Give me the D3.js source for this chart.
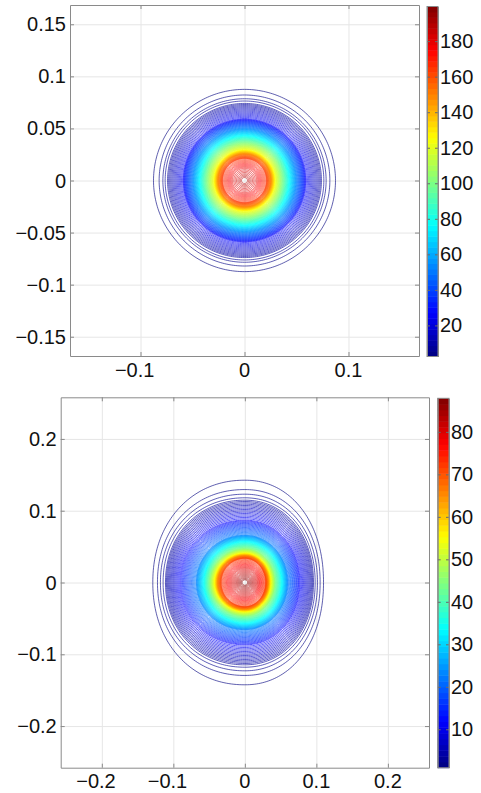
<!DOCTYPE html>
<html><head><meta charset="utf-8">
<script src="https://cdn.jsdelivr.net/npm/d3@7"></script>
<style>
body{margin:0;background:#fff}
svg{display:block}
text{font-family:"Liberation Sans",Arial,Helvetica,sans-serif;font-size:20px;fill:#111}
</style>
</head><body>
<svg id="chart" width="481" height="793"></svg>
<script>
// ================= DATA =================
// --- Top panel ---
const topXTicks = [-0.1, 0, 0.1];
const topXTickLabels = ["−0.1", "0", "0.1"];
const topYTicks = [0.15, 0.1, 0.05, 0, -0.05, -0.1, -0.15];
const topYTickLabels = ["0.15", "0.1", "0.05", "0", "−0.05", "−0.1", "−0.15"];
const topXDomain = [-0.1678, 0.1678];
const topYDomain = [-0.1685, 0.1685];
const topCbTicks = [20, 40, 60, 80, 100, 120, 140, 160, 180];
const topCbDomain = [2.5, 199.5];
const topLevelCount = 150;
// radial profile: contour value -> radius (circular)
const topProfileValues = [2.5, 3.82, 5.14, 6.47, 7.79, 27, 52, 76, 101, 125, 150, 165, 178, 184, 188];
const topProfileRadius = [0.0875, 0.0821, 0.0785, 0.0763, 0.074, 0.059, 0.050, 0.043, 0.036, 0.029, 0.025, 0.021, 0.012, 0.006, 0.0025];
const topShapeExp      = [2, 2, 2, 2, 2, 2, 2, 2, 2, 2, 2, 2, 2, 2, 2];

// --- Bottom panel ---
const botXTicks = [-0.2, -0.1, 0, 0.1, 0.2];
const botXTickLabels = ["−0.2", "−0.1", "0", "0.1", "0.2"];
const botYTicks = [0.2, 0.1, 0, -0.1, -0.2];
const botYTickLabels = ["0.2", "0.1", "0", "−0.1", "−0.2"];
const botXDomain = [-0.2575, 0.2575];
const botYDomain = [-0.258, 0.258];
const botCbTicks = [10, 20, 30, 40, 50, 60, 70, 80];
const botCbDomain = [0.96, 87.9];
const botLevelCount = 150;
// profile: contour value -> radius up/down, to the left, to the right
const botProfileValues = [0.96, 1.54, 2.13, 2.71, 3.29, 12, 22.7, 33.6, 44.5, 55, 66, 72, 79, 82, 85, 86.5];
const botRadiusVert  = [0.1425, 0.1295, 0.123, 0.118, 0.1147, 0.087, 0.066, 0.0567, 0.047, 0.0404, 0.0367, 0.0334, 0.020, 0.013, 0.006, 0.003];
const botRadiusLeft  = [0.1287, 0.1222, 0.118, 0.1143, 0.111, 0.091, 0.068, 0.0574, 0.049, 0.042, 0.0373, 0.0330, 0.019, 0.012, 0.006, 0.003];
const botRadiusRight = [0.1100, 0.1053, 0.1015, 0.0983, 0.096, 0.077, 0.060, 0.0515, 0.0420, 0.0360, 0.0320, 0.0290, 0.018, 0.012, 0.006, 0.003];
const botShapeExp    = [2.12, 2.12, 2.1, 2.1, 2.1, 2.06, 2.03, 2.0, 2.0, 2.0, 2.0, 2.0, 2.0, 2.0, 2.0, 2.0];

// ================= DRAWING =================
const svg = d3.select("#chart");
const defs = svg.append("defs");
defs.append("filter").attr("id", "soft").attr("x", "-10%").attr("y", "-10%").attr("width", "120%").attr("height", "120%")
  .append("feGaussianBlur").attr("stdDeviation", 0.3);

function jet(t) {
  const c = v => Math.max(0, Math.min(1, v));
  const r = c(1.5 - Math.abs(4 * t - 3));
  const g = c(1.5 - Math.abs(4 * t - 2));
  const b = c(1.5 - Math.abs(4 * t - 1));
  return d3.rgb(r * 255, g * 255, b * 255).toString();
}

let clipId = 0;
function panel(cfg) {
  const x = d3.scaleLinear().domain(cfg.xDomain).range([cfg.left, cfg.right]);
  const y = d3.scaleLinear().domain(cfg.yDomain).range([cfg.bottom, cfg.top]);
  const W = cfg.right - cfg.left, H = cfg.bottom - cfg.top;
  const g = svg.append("g");

  // grid
  const gridStyle = s => { s.select(".domain").remove(); s.selectAll("line").attr("stroke", "#e6e6e6").attr("stroke-width", 1); };
  g.append("g").attr("transform", `translate(0,${cfg.bottom})`)
    .call(d3.axisBottom(x).tickValues(cfg.xTicks).tickSize(-H).tickFormat("")).call(gridStyle);
  g.append("g").attr("transform", `translate(${cfg.left},0)`)
    .call(d3.axisLeft(y).tickValues(cfg.yTicks).tickSize(-W).tickFormat("")).call(gridStyle);

  // contours
  const id = "clip" + (clipId++);
  defs.append("clipPath").attr("id", id).append("rect")
    .attr("x", cfg.left).attr("y", cfg.top).attr("width", W).attr("height", H);
  const lo = cfg.cbDomain[0], hi = cfg.cbDomain[1];
  const peak = d3.max(cfg.profileValues);
  const levels = d3.range(cfg.levelCount)
    .map(i => lo + i * (hi - lo) / (cfg.levelCount - 1))
    .filter(v => v <= peak);
  const rV = d3.scaleLinear().domain(cfg.profileValues).range(cfg.radiusVert).clamp(true);
  const rL = d3.scaleLinear().domain(cfg.profileValues).range(cfg.radiusLeft).clamp(true);
  const rR = d3.scaleLinear().domain(cfg.profileValues).range(cfg.radiusRight).clamp(true);
  const ex = d3.scaleLinear().domain(cfg.profileValues).range(cfg.shapeExp).clamp(true);
  const color = v => jet((v - lo) / (hi - lo));
  const angles = d3.range(0, 2 * Math.PI, Math.PI / 120);
  const cg = g.append("g").attr("clip-path", `url(#${id})`).append("g").attr("filter", "url(#soft)");
  levels.forEach(v => {
    const a = rL(v), b = rR(v), c = rV(v), p = 2 / ex(v);
    const sp = u => Math.sign(u) * Math.pow(Math.abs(u), p);
    const line = d3.line()
      .x(t => { const cu = sp(Math.cos(t)); return x(cu >= 0 ? b * cu : a * cu); })
      .y(t => y(c * sp(Math.sin(t))))
      .curve(d3.curveCardinalClosed);
    cg.append("path").attr("d", line(angles))
      .attr("fill", "none").attr("stroke", color(v))
      .attr("stroke-width", 0.9).attr("stroke-opacity", 0.7);
  });

  // box + inward ticks on all sides
  const tickStyle = s => { s.select(".domain").attr("stroke", "#8a8a8a"); s.selectAll(".tick line").attr("stroke", "#8a8a8a"); s.selectAll("text").remove(); };
  g.append("g").attr("transform", `translate(0,${cfg.bottom})`).call(d3.axisBottom(x).tickValues(cfg.xTicks).tickSize(-4).tickSizeOuter(0)).call(tickStyle);
  g.append("g").attr("transform", `translate(0,${cfg.top})`).call(d3.axisTop(x).tickValues(cfg.xTicks).tickSize(-4).tickSizeOuter(0)).call(tickStyle);
  g.append("g").attr("transform", `translate(${cfg.left},0)`).call(d3.axisLeft(y).tickValues(cfg.yTicks).tickSize(-4).tickSizeOuter(0)).call(tickStyle);
  g.append("g").attr("transform", `translate(${cfg.right},0)`).call(d3.axisRight(y).tickValues(cfg.yTicks).tickSize(-4).tickSizeOuter(0)).call(tickStyle);

  // y labels
  cfg.yTicks.forEach((t, i) => {
    g.append("text").attr("x", cfg.left - 4).attr("y", y(t) + 7)
      .attr("text-anchor", "end").text(cfg.yTickLabels[i]);
  });
  // x labels: digits centred on tick, minus sign hanging to the left
  cfg.xTicks.forEach((t, i) => {
    const lab = cfg.xTickLabels[i];
    const neg = lab.startsWith("−");
    const digits = neg ? lab.slice(1) : lab;
    const txt = g.append("text").attr("x", x(t)).attr("y", cfg.bottom + cfg.xLabelOffset)
      .attr("text-anchor", "middle").text(digits);
    if (neg) {
      const w = txt.node().getComputedTextLength();
      g.append("text").attr("x", x(t) - w / 2).attr("y", cfg.bottom + cfg.xLabelOffset)
        .attr("text-anchor", "end").text("−");
    }
  });

  // colorbar
  const cb = d3.scaleLinear().domain(cfg.cbDomain).range([cfg.cbBottom, cfg.cbTop]);
  const n = 64;
  const cbg = g.append("g");
  d3.range(n).forEach(i => {
    const v0 = lo + i * (hi - lo) / n, v1 = lo + (i + 1) * (hi - lo) / n;
    cbg.append("rect").attr("x", cfg.cbLeft).attr("width", cfg.cbRight - cfg.cbLeft)
      .attr("y", cb(v1)).attr("height", cb(v0) - cb(v1) + 0.5)
      .attr("fill", jet((i + 0.5) / n));
  });
  const cbStyle = s => { s.select(".domain").attr("stroke", "#8a8a8a"); s.selectAll(".tick line").attr("stroke", "#6a6a6a"); s.selectAll("text").remove(); };
  cbg.append("g").attr("transform", `translate(${cfg.cbLeft},0)`).call(d3.axisLeft(cb).tickValues(cfg.cbTicks).tickSize(-3).tickSizeOuter(0)).call(cbStyle);
  cbg.append("g").attr("transform", `translate(${cfg.cbRight},0)`).call(d3.axisRight(cb).tickValues(cfg.cbTicks).tickSize(-3).tickSizeOuter(0)).call(cbStyle);
  cbg.append("rect").attr("x", cfg.cbLeft).attr("y", cfg.cbTop).attr("width", cfg.cbRight - cfg.cbLeft)
    .attr("height", cfg.cbBottom - cfg.cbTop).attr("fill", "none").attr("stroke", "#8a8a8a");
  cfg.cbTicks.forEach(t => {
    cbg.append("text").attr("x", cfg.cbRight + 2).attr("y", cb(t) + 7).text(t);
  });
}

panel({
  left: 70, right: 419, top: 5, bottom: 356,
  xDomain: topXDomain, yDomain: topYDomain,
  xTicks: topXTicks, xTickLabels: topXTickLabels,
  yTicks: topYTicks, yTickLabels: topYTickLabels,
  xLabelOffset: 20.5,
  cbLeft: 427, cbRight: 438, cbTop: 6.5, cbBottom: 356.5,
  cbDomain: topCbDomain, cbTicks: topCbTicks,
  levelCount: topLevelCount,
  profileValues: topProfileValues, shapeExp: topShapeExp,
  radiusVert: topProfileRadius, radiusLeft: topProfileRadius, radiusRight: topProfileRadius
});

panel({
  left: 60.7, right: 429, top: 397.3, bottom: 767.7,
  xDomain: botXDomain, yDomain: botYDomain,
  xTicks: botXTicks, xTickLabels: botXTickLabels,
  yTicks: botYTicks, yTickLabels: botYTickLabels,
  xLabelOffset: 20,
  cbLeft: 437.7, cbRight: 449, cbTop: 398.3, cbBottom: 767.7,
  cbDomain: botCbDomain, cbTicks: botCbTicks,
  levelCount: botLevelCount,
  profileValues: botProfileValues, shapeExp: botShapeExp,
  radiusVert: botRadiusVert, radiusLeft: botRadiusLeft, radiusRight: botRadiusRight
});
</script>
</body></html>
